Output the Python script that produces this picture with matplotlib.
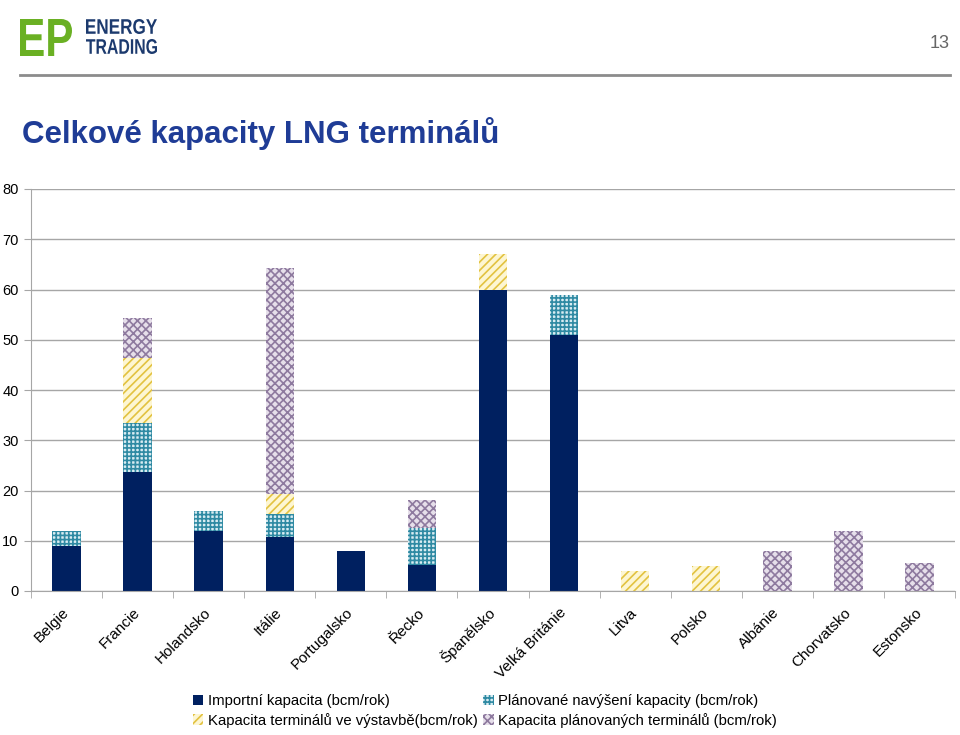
import numpy as np
import matplotlib
matplotlib.use('Agg')
import matplotlib.pyplot as plt
from matplotlib.patches import Patch, PathPatch
from matplotlib.textpath import TextPath
from matplotlib.font_manager import FontProperties
from matplotlib.transforms import Affine2D

plt.rcParams['font.family'] = ['Liberation Sans', 'DejaVu Sans']
plt.rcParams['hatch.linewidth'] = 1.2

# data (bcm/rok)
zeme = ['Belgie', 'Francie', 'Holandsko', 'Itálie', 'Portugalsko', 'Řecko', 'Španělsko',
        'Velká Británie', 'Litva', 'Polsko', 'Albánie', 'Chorvatsko', 'Estonsko']
importni = [9, 23.7, 12, 10.8, 8, 5.2, 60, 51, 0, 0, 0, 0, 0]
navyseni = [3, 9.7, 4, 4.5, 0, 7.3, 0, 8, 0, 0, 0, 0, 0]
vystavba = [0, 13, 0, 4, 0, 0, 7, 0, 4, 5, 0, 0, 0]
planovane = [0, 8, 0, 45, 0, 5.6, 0, 0, 0, 0, 8, 12, 5.6]

labels = ['Importní kapacita (bcm/rok)',
          'Plánované navýšení kapacity (bcm/rok)',
          'Kapacita terminálů ve výstavbě(bcm/rok)',
          'Kapacita plánovaných terminálů (bcm/rok)']

W, H = 960, 735
fig = plt.figure(figsize=(9.6, 7.35), dpi=100)


def logo_text(s, x0, y_top, width, height, color, weight='bold'):
    # squeeze a text path into a box given in pixels (top-left origin)
    tp = TextPath((0, 0), s, size=10, prop=FontProperties(family='Liberation Sans', weight=weight))
    ext = tp.get_extents()
    sx = width / ext.width
    sy = height / ext.height
    tr = (Affine2D().translate(-ext.x0, -ext.y0).scale(sx, sy)
          .translate(x0, H - y_top - height) + Affine2D().scale(1 / W, 1 / H) + fig.transFigure)
    fig.add_artist(PathPatch(tp, transform=tr, facecolor=color, edgecolor='none'))


logo_text('EP', 20, 19, 52, 37, '#6ab023')
logo_text('ENERGY', 86, 19, 71, 15, '#1c3a6e')
logo_text('TRADING', 86, 39, 71, 15, '#1c3a6e')
fig.text(950/W, 1 - 43/H, '13', color='#666666', fontsize=13, ha='right', va='center')
fig.add_artist(plt.Line2D([20/W, 950/W], [1 - 75/H, 1 - 75/H], color='#8c8c8c', lw=2))

fig.text(22/W, 1 - 134/H, 'Celkové kapacity LNG terminálů', color='#1f3c96',
         fontsize=22.5, fontweight='bold', va='center', ha='left')

ax = fig.add_axes([31/W, 1 - 591/H, 924/W, 402/H])

x = np.arange(len(zeme))
w = 0.4
imp = np.array(importni)
nav = np.array(navyseni)
vys = np.array(vystavba)
pla = np.array(planovane)

ax.bar(x, imp, w, color='#002060', zorder=2)
ax.bar(x, nav, w, bottom=imp, facecolor='#d8ecf2', edgecolor='#2f8aa3', hatch='++++',
       lw=0, zorder=2)
ax.bar(x, vys, w, bottom=imp + nav, facecolor='#fdf6d2', edgecolor='#e2c240', hatch='////',
       lw=0, zorder=2)
ax.bar(x, pla, w, bottom=imp + nav + vys, facecolor='#e6dfea', edgecolor='#8e7a9f',
       hatch='xxxx', lw=0, zorder=2)

ax.set_xlim(-0.5, len(zeme) - 0.5)
ax.set_ylim(0, 80)
ax.set_yticks(range(0, 81, 10))
ax.yaxis.grid(True, color='#a6a6a6', lw=1, zorder=0)
for s in ['top', 'right']:
    ax.spines[s].set_visible(False)
for s in ['left', 'bottom']:
    ax.spines[s].set_color('#a6a6a6')
ax.tick_params(axis='y', length=5, color='#a6a6a6', labelsize=10.5, pad=4)
ax.set_xticks(x)
ax.set_xticklabels(zeme, rotation=45, ha='right', va='center', rotation_mode='anchor',
                   fontsize=11)
ax.tick_params(axis='x', length=0, pad=14)
ax.set_xticks(np.arange(-0.5, len(zeme), 1), minor=True)
ax.tick_params(axis='x', which='minor', length=5, color='#a6a6a6')

handles = [Patch(facecolor='#002060'),
           Patch(facecolor='#fdf6d2', edgecolor='#e2c240', hatch='////', lw=0),
           Patch(facecolor='#d8ecf2', edgecolor='#2f8aa3', hatch='++++', lw=0),
           Patch(facecolor='#e6dfea', edgecolor='#8e7a9f', hatch='xxxx', lw=0)]
fig.legend(handles, [labels[0], labels[2], labels[1], labels[3]], ncol=2,
           loc='center', bbox_to_anchor=(485/W, 1 - 711/H), frameon=False,
           fontsize=10.7, handlelength=0.7, handleheight=0.7, handletextpad=0.3,
           columnspacing=0.4, labelspacing=0.3, borderaxespad=0)

fig.savefig('out.png', dpi=100)
